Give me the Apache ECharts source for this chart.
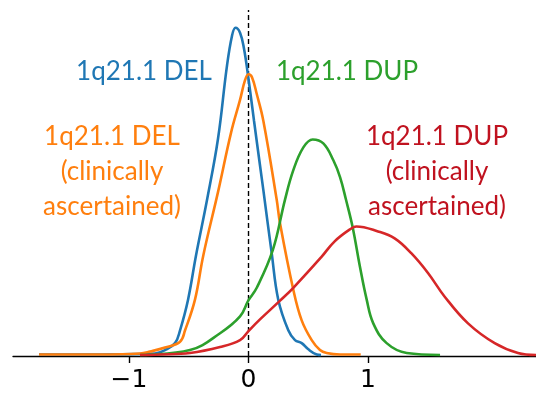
<!DOCTYPE html>
<html>
<head>
<meta charset="utf-8">
<script src="https://cdn.jsdelivr.net/npm/echarts@6/dist/echarts.min.js"></script>
<style>
  html, body { margin: 0; padding: 0; background: #fff; }
  #chart { width: 536px; height: 394px; }
</style>
</head>
<body>
<div id="chart"></div>
<script>
"use strict";

// ── Datos ──────────────────────────────────────────────────────────────────
const delX = [-1.753, -1.243, -0.908, -0.782, -0.699, -0.615, -0.573, -0.506, -0.439, -0.347, -0.255, -0.182, -0.138, -0.109, -0.071, -0.038, -0.002, 0.046, 0.096, 0.124, 0.194, 0.249, 0.333, 0.389, 0.445, 0.498, 0.571, 0.607];
const delY = [0.015, 0.015, 0.02, 0.025, 0.06, 0.13, 0.26, 0.57, 1.02, 1.58, 2.20, 2.92, 3.24, 3.32, 3.27, 3.11, 2.82, 2.38, 1.93, 1.68, 1.04, 0.57, 0.26, 0.16, 0.13, 0.07, 0.015, 0.01];

const delClinX = [-1.753, -1.243, -0.908, -0.824, -0.699, -0.573, -0.531, -0.448, -0.378, -0.255, -0.146, -0.071, -0.029, 0.0, 0.029, 0.069, 0.124, 0.236, 0.264, 0.375, 0.445, 0.529, 0.598, 0.654, 0.766, 0.939];
const delClinY = [0.015, 0.015, 0.025, 0.045, 0.085, 0.145, 0.26, 0.57, 1.02, 1.66, 2.26, 2.59, 2.79, 2.85, 2.82, 2.65, 2.38, 1.58, 1.34, 0.67, 0.36, 0.16, 0.06, 0.03, 0.015, 0.015];

const dupX = [-0.908, -0.490, -0.238, -0.071, -0.002, 0.069, 0.203, 0.305, 0.375, 0.459, 0.537, 0.626, 0.710, 0.766, 0.816, 0.872, 0.933, 0.989, 1.044, 1.156, 1.324, 1.603];
const dupY = [0.01, 0.06, 0.23, 0.40, 0.56, 0.69, 1.07, 1.58, 1.88, 2.11, 2.19, 2.15, 1.98, 1.81, 1.58, 1.30, 0.90, 0.57, 0.33, 0.13, 0.03, 0.01];

const dupClinX = [-0.908, -0.741, -0.490, -0.238, -0.071, -0.002, 0.096, 0.264, 0.375, 0.609, 0.721, 0.860, 0.902, 1.084, 1.223, 1.362, 1.502, 1.642, 1.837, 2.060, 2.255, 2.406];
const dupClinY = [0.01, 0.015, 0.03, 0.09, 0.16, 0.25, 0.37, 0.56, 0.69, 1.00, 1.16, 1.29, 1.31, 1.26, 1.19, 1.04, 0.84, 0.60, 0.33, 0.13, 0.03, 0.01];

const tickValues = [-1, 0, 1];
const refLineX = [0, 0];
const refLineY = [0, 3.5];

// ── Colores ────────────────────────────────────────────────────────────────
const C_BLUE = "#1f77b4", C_ORANGE = "#ff7f0e", C_GREEN = "#2ca02c", C_RED = "#d62728";
const TXT_RED = "#c0121f";
const FONT = "Lato, 'Open Sans', sans-serif";

function pairs(xs, ys) { return xs.map((x, i) => [x, ys[i]]); }

function curve(xs, ys, color) {
  return {
    type: "line",
    data: pairs(xs, ys),
    smooth: 0.4,
    symbol: "none",
    lineStyle: { color, width: 2.6 },
    z: 3,
  };
}

function label(text, x, y, color) {
  return {
    type: "text",
    x, y,
    style: {
      text, fill: color,
      font: "26px " + FONT,
      align: "center", verticalAlign: "middle",
      lineHeight: 35,
    },
  };
}

const chart = echarts.init(document.getElementById("chart"), null, { renderer: "canvas" });

chart.setOption({
  animation: false,
  grid: { left: 13, right: 0, top: 10, bottom: 38 },
  xAxis: {
    type: "value",
    min: -1.971, max: 2.406,
    axisLine: { show: true, onZero: false, lineStyle: { color: "#000", width: 1.3 } },
    axisTick: { show: true, length: 7, customValues: tickValues, lineStyle: { color: "#000", width: 1.4 } },
    axisLabel: {
      customValues: tickValues,
      margin: 12,
      fontFamily: "'DejaVu Sans', sans-serif", fontSize: 25, color: "#000",
      formatter: v => (v < 0 ? "\u2212" + Math.abs(v) : String(v)),
    },
    splitLine: { show: false },
  },
  yAxis: { type: "value", min: 0, max: 3.5, show: false },
  series: [
    {
      type: "line",
      data: pairs(refLineX, refLineY),
      symbol: "none",
      lineStyle: { color: "#000", width: 1.4, type: [5, 3] },
      z: 2,
    },
    curve(delX, delY, C_BLUE),
    curve(delClinX, delClinY, C_ORANGE),
    curve(dupX, dupY, C_GREEN),
    curve(dupClinX, dupClinY, C_RED),
  ],
  graphic: [
    label("1q21.1 DEL", 144, 72, C_BLUE),
    label("1q21.1 DUP", 347, 72, C_GREEN),
    label("1q21.1 DEL\n(clinically\nascertained)", 112, 172, C_ORANGE),
    label("1q21.1 DUP\n(clinically\nascertained)", 437, 172, TXT_RED),
  ],
});
</script>
</body>
</html>
